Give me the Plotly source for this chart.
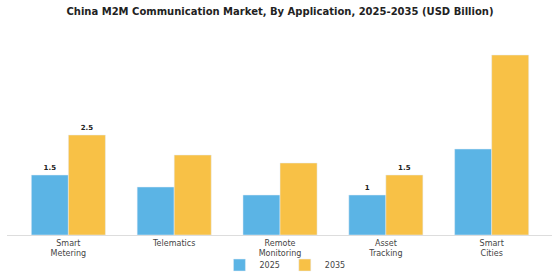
import plotly.graph_objects as go

categories = ["Smart<br>Metering", "Telematics", "Remote<br>Monitoring", "Asset<br>Tracking", "Smart<br>Cities"]
values_2025 = [1.5, 1.2, 1.0, 1.0, 2.15]
values_2035 = [2.5, 2.0, 1.8, 1.5, 4.5]
labels_2025 = ["1.5", "", "", "1", ""]
labels_2035 = ["2.5", "", "", "1.5", ""]

fig = go.Figure()
fig.add_trace(go.Bar(
    name="2025", x=categories, y=values_2025, marker_color="#5BB4E5",
    text=labels_2025, textposition="outside", cliponaxis=False,
    textfont=dict(family="DejaVu Sans", size=7, color="#222222", weight="bold"),
))
fig.add_trace(go.Bar(
    name="2035", x=categories, y=values_2035, marker_color="#F8C146",
    text=labels_2035, textposition="outside", cliponaxis=False,
    textfont=dict(family="DejaVu Sans", size=7, color="#222222", weight="bold"),
))

fig.update_layout(
    width=560, height=280,
    margin=dict(l=7, r=8, t=40, b=45, autoexpand=False),
    paper_bgcolor="white", plot_bgcolor="white",
    barmode="group", bargap=0.3, bargroupgap=0,
    title=dict(text="<b>China M2M Communication Market, By Application, 2025-2035 (USD Billion)</b>",
               x=0.5, xanchor="center", y=0.96, yanchor="middle",
               font=dict(family="DejaVu Sans", size=10, color="#222222")),
    font=dict(family="DejaVu Sans", size=8, color="#444444"),
    xaxis=dict(range=[-0.58, 4.57], showline=True, linecolor="#DDDDDD", linewidth=1,
               ticks="", tickfont=dict(size=8, color="#444444"), showgrid=False,
               automargin=False),
    yaxis=dict(range=[0, 4.875], visible=False, showgrid=False, automargin=False),
    legend=dict(orientation="h", x=0.51, xanchor="center", y=-0.154, yanchor="middle",
                bgcolor="rgba(0,0,0,0)", font=dict(size=8, color="#444444"),
                itemwidth=30),
)

fig.write_html("out.html")
